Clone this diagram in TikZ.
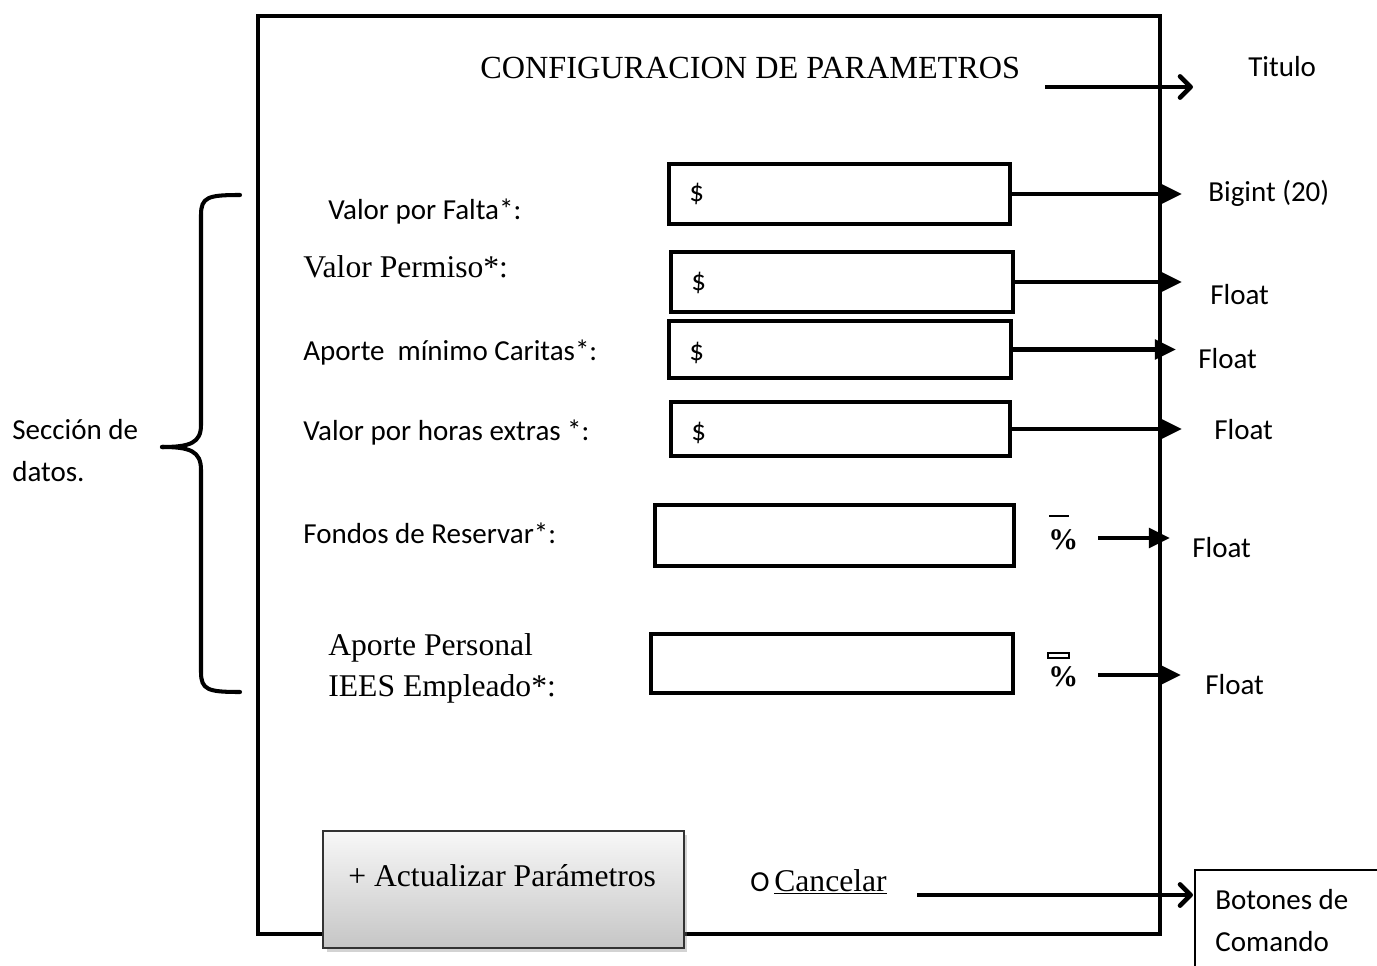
\documentclass[tikz,border=0pt]{standalone}
\usepackage{fontspec}
\setmainfont{Liberation Serif}
\newfontfamily\calib{Carlito}
\usetikzlibrary{arrows.meta,shadows}
\begin{document}
\begin{tikzpicture}[x=0.02cm,y=-0.02cm,
  frame/.style={line width=2.3pt},
  inbox/.style={draw, line width=2.2pt, inner sep=0pt},
  sanslbl/.style={font=\calib\fontsize{16.5}{20}\selectfont, inner sep=0pt, anchor=base west},
  seriflbl/.style={font=\fontsize{18}{23}\selectfont, inner sep=0pt, anchor=base west},
  pct/.style={font=\bfseries\fontsize{17}{20}\selectfont, inner sep=0pt, anchor=base west},
  arr/.style={line width=2.7pt, -{Triangle[length=12pt,width=11pt]}},
  barb/.style={line width=2.7pt, -{Straight Barb[length=6pt,width=12pt,round]}},
  brace/.style={line width=2.3pt, line cap=round},
  button/.style={draw=black!80, line width=0.8pt, top color=gray!6, bottom color=gray!45, drop shadow={opacity=0.35, shadow xshift=2pt, shadow yshift=-2pt}}
]
\useasboundingbox (0,0) rectangle (1377,966);

% main frame
\draw[frame] (258,16) rectangle (1160,934);

% title
\node[seriflbl, font=\fontsize{18.35}{23}\selectfont] (title) at (480,79) {CONFIGURACION DE PARAMETROS};

% input boxes
\node[inbox, minimum width=6.82cm, minimum height=1.2cm]  (box1) at (839.5,194) {};
\node[inbox, minimum width=6.84cm, minimum height=1.2cm]  (box2) at (842,282) {};
\node[inbox, minimum width=6.84cm, minimum height=1.14cm] (box3) at (840,349.5) {};
\node[inbox, minimum width=6.78cm, minimum height=1.08cm] (box4) at (840.5,429) {};
\node[inbox, minimum width=7.18cm, minimum height=1.22cm] (box5) at (834.5,535.5) {};
\node[inbox, minimum width=7.24cm, minimum height=1.18cm] (box6) at (832,663.5) {};

\node[sanslbl] (d1) at (689,202) {\$};
\node[sanslbl] (d2) at (691,291) {\$};
\node[sanslbl] (d3) at (689,360) {\$};
\node[sanslbl] (d4) at (691,440) {\$};

% field labels
\node[sanslbl]  (l1) at (328,220) {Valor por Falta*:};
\node[seriflbl] (l2) at (303,278) {Valor Permiso*:};
\node[sanslbl]  (l3) at (303,360) {Aporte\ \ mínimo Caritas*:};
\node[sanslbl]  (l4) at (303,440) {Valor por horas extras *:};
\node[sanslbl]  (l5) at (303,543) {Fondos de Reservar*:};
\node[seriflbl] (l6a) at (328,655) {Aporte Personal};
\node[seriflbl] (l6b) at (328,696) {IEES Empleado*:};

% percent signs
\node[pct] (p1) at (1048,549) {\%};
\node[pct] (p2) at (1048,686) {\%};
\draw[line width=0.6pt] (1049,516) -- (1069,516);
\draw[line width=0.6pt] (1048,653) rectangle (1069,658);

% right-hand labels
\node[sanslbl] (rt) at (1248,77) {Titulo};
\node[sanslbl] (r1) at (1208,202) {Bigint (20)};
\node[sanslbl] (r2) at (1210,305) {Float};
\node[sanslbl] (r3) at (1198,369) {Float};
\node[sanslbl] (r4) at (1214,439) {Float};
\node[sanslbl] (r5) at (1192,557) {Float};
\node[sanslbl] (r6) at (1205,694) {Float};

% left brace and label
\draw[brace] (240,195) .. controls (208,195) and (201,197) .. (201,215)
  -- (201,425) .. controls (201,443) and (190,447) .. (162,447);
\draw[brace] (162,447) .. controls (190,447) and (201,451) .. (201,470)
  -- (201,672) .. controls (201,690) and (208,692) .. (240,692);
\node[sanslbl] (s1) at (12,439) {Sección de};
\node[sanslbl] (s2) at (12,481) {datos.};

% buttons
\node[button, minimum width=7.22cm, minimum height=2.34cm, inner sep=0pt] (btn) at (503.5,889.5) {};
\node[seriflbl] (btntxt) at (348,886) {+ Actualizar Parámetros};
\node[sanslbl] (o) at (750,891) {O};
\node[seriflbl] (cancel) at (774,891) {\underline{Cancelar}};

% bottom right box
\draw[line width=0.6pt] (1377,870) -- (1195,870) -- (1195,966);
\node[sanslbl] (b1) at (1215,909) {Botones de};
\node[sanslbl] (b2) at (1215,951) {Comando};

% arrows
\coordinate (ta) at (1045,87);
\coordinate (tb) at (1193,87);
\draw[barb] (ta) -- (tb);
\coordinate (t1) at (1182,0);
\coordinate (t2) at (1182,0);
\coordinate (t3) at (1176,0);
\coordinate (t4) at (1182,0);
\coordinate (t5) at (1170,0);
\coordinate (t6) at (1181,0);
\draw[arr] (box1.east) -- (box1.east -| t1);
\draw[arr] (box2.east) -- (box2.east -| t2);
\draw[arr] (box3.east) -- (box3.east -| t3);
\draw[arr] (box4.east) -- (box4.east -| t4);
\coordinate (p1s) at (1098,538);
\coordinate (p2s) at (1098,675);
\draw[arr] (p1s) -- (p1s -| t5);
\draw[arr] (p2s) -- (p2s -| t6);
\coordinate (ca) at (917,895);
\coordinate (cb) at (1193,895);
\draw[barb] (ca) -- (cb);
\end{tikzpicture}
\end{document}
